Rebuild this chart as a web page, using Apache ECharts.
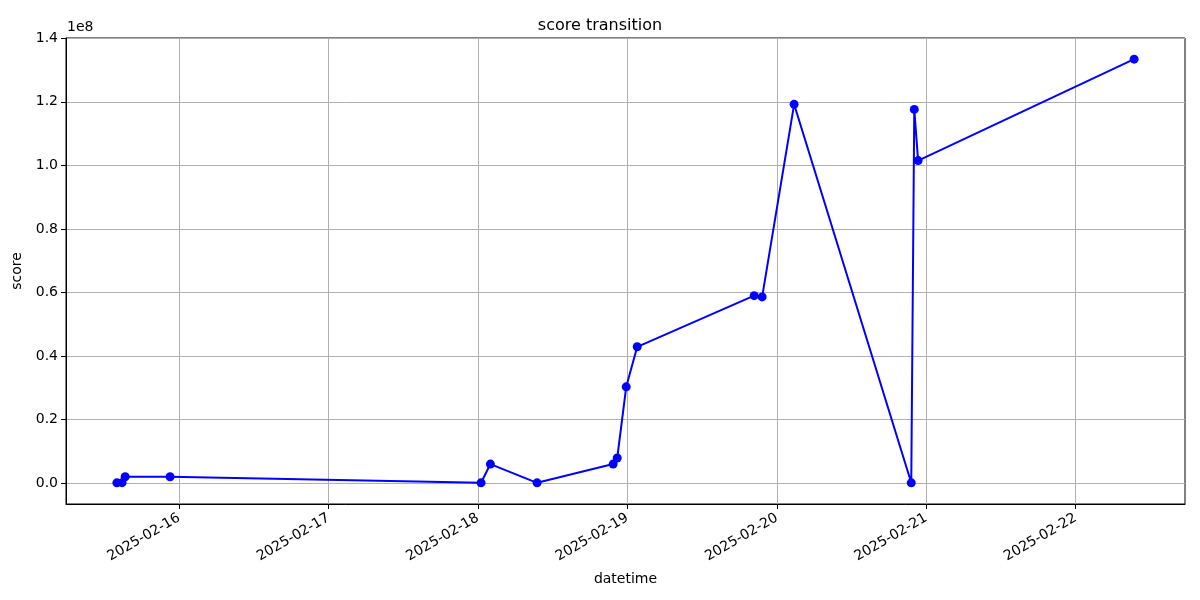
<!DOCTYPE html>
<html>
<head>
<meta charset="utf-8">
<script src="https://cdn.jsdelivr.net/npm/echarts@6/dist/echarts.min.js"></script>
<style>html,body{margin:0;padding:0;background:#fff}#c{width:1200px;height:600px}</style>
</head>
<body>
<div id="c"></div>
<script>
const times = ['2025-02-15 14:00','2025-02-15 14:50','2025-02-15 15:20','2025-02-15 22:33',
  '2025-02-18 00:30','2025-02-18 02:00','2025-02-18 09:30',
  '2025-02-18 21:43','2025-02-18 22:22','2025-02-18 23:49','2025-02-19 01:35',
  '2025-02-19 20:22','2025-02-19 21:39','2025-02-20 02:47',
  '2025-02-20 21:36','2025-02-20 22:05','2025-02-20 22:42','2025-02-22 09:24'];
const scores = [100000, 150000, 2000000, 2000000,
  100000, 6000000, 100000,
  6000000, 7900000, 30300000, 42900000,
  59000000, 58600000, 119200000,
  100000, 117600000, 101500000, 133400000];
const xTickDates = ['2025-02-16','2025-02-17','2025-02-18','2025-02-19','2025-02-20','2025-02-21','2025-02-22'];
const yTicks = [0, 20000000, 40000000, 60000000, 80000000, 100000000, 120000000, 140000000];

function parseT(s){
  const [d, t] = s.split(' ');
  const [Y, M, D] = d.split('-').map(Number);
  const [h, mi] = (t || '00:00').split(':').map(Number);
  return new Date(Y, M - 1, D, h, mi).getTime();
}
const xs = times.map(parseT);
const xTicks = xTickDates.map(parseT);
const span = xs[xs.length - 1] - xs[0];
const xMin = xs[0] - 0.05 * span, xMax = xs[xs.length - 1] + 0.05 * span;
const yLo = Math.min(...scores), yHi = Math.max(...scores);
const ySpan = yHi - yLo;
const yMin = yLo - 0.05 * ySpan, yMax = yHi + 0.05 * ySpan;

function pad(n){return n < 10 ? '0' + n : '' + n;}
const FONT = 'DejaVu Sans';
const chart = echarts.init(document.getElementById('c'), null, {renderer: 'canvas'});
chart.setOption({
  animation: false,
  backgroundColor: '#fff',
  title: {text: 'score transition', left: 'center', top: 13,
    textStyle: {fontFamily: FONT, fontSize: 16, fontWeight: 'normal', color: '#000'}},
  grid: {left: 66, right: 15, top: 38, bottom: 96, show: true, borderColor: '#000', borderWidth: 1, backgroundColor: 'transparent'},
  graphic: [{type: 'text', left: 67, top: 20, style: {text: '1e8', font: '14px "DejaVu Sans"', fill: '#000'}}],
  xAxis: {
    type: 'value', min: xMin, max: xMax,
    name: 'datetime', nameLocation: 'middle', nameGap: 68,
    nameTextStyle: {fontFamily: FONT, fontSize: 14, color: '#000'},
    axisLine: {show: true, onZero: false, lineStyle: {color: '#000'}},
    axisTick: {show: true, length: 5, lineStyle: {color: '#000'}, customValues: xTicks},
    axisLabel: {customValues: xTicks, rotate: 30, margin: 13, fontFamily: FONT, fontSize: 14, color: '#000',
      formatter: v => { const d = new Date(v); return d.getFullYear() + '-' + pad(d.getMonth() + 1) + '-' + pad(d.getDate()); }},
    splitLine: {show: true, lineStyle: {color: '#b0b0b0', width: 1}}
  },
  yAxis: {
    type: 'value', min: yMin, max: yMax,
    name: 'score', nameLocation: 'middle', nameGap: 38,
    nameTextStyle: {fontFamily: FONT, fontSize: 14, color: '#000'},
    axisLine: {show: true, onZero: false, lineStyle: {color: '#000'}},
    axisTick: {show: true, length: 5, lineStyle: {color: '#000'}, customValues: yTicks},
    axisLabel: {customValues: yTicks, margin: 8, fontFamily: FONT, fontSize: 14, color: '#000',
      formatter: v => (v / 1e8).toFixed(1)},
    splitLine: {show: true, lineStyle: {color: '#b0b0b0', width: 1}}
  },
  series: [{
    type: 'line', data: xs.map((x, i) => [x, scores[i]]),
    symbol: 'circle', symbolSize: 9, showSymbol: true,
    lineStyle: {color: '#0000ff', width: 2}, itemStyle: {color: '#0000ff'}
  }]
});
</script>
</body>
</html>
